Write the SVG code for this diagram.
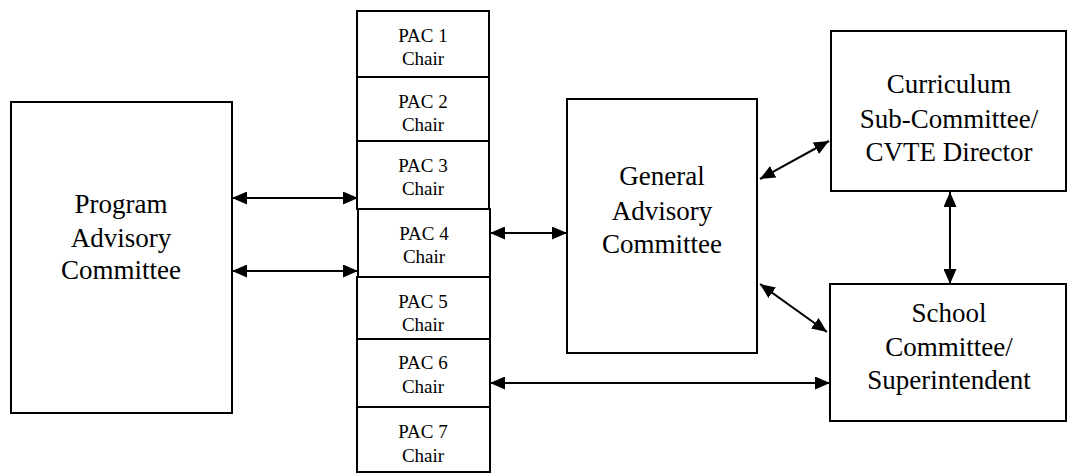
<svg xmlns="http://www.w3.org/2000/svg" width="1069" height="474" viewBox="0 0 1069 474" font-family="'Liberation Serif', 'DejaVu Serif', serif">
<style>
.box{fill:#fff;stroke:#000;stroke-width:2}
text{font-family:'Liberation Serif','DejaVu Serif',serif;fill:#000;text-anchor:middle}
.big{font-size:27px}
.pac{font-size:19px}
.conn{stroke:#000;stroke-width:2;fill:none;marker-start:url(#ah);marker-end:url(#ah)}
</style>
<defs>
<marker id="ah" viewBox="0 0 15 13" refX="15" refY="6.5" markerWidth="15" markerHeight="13" orient="auto-start-reverse" markerUnits="userSpaceOnUse">
<path d="M0,0 L15,6.5 L0,13 z" fill="#000"/>
</marker>
</defs>
<rect width="1069" height="474" fill="#fff"/>
<g id="program">
<rect class="box" x="11" y="102" width="221" height="311"/>
<text class="big" x="121" y="213">Program</text>
<text class="big" x="121" y="247">Advisory</text>
<text class="big" x="121" y="279">Committee</text>
</g>
<g id="pac1"><rect class="box" x="357" y="11" width="132" height="66"/><text class="pac" x="423" y="42">PAC 1</text><text class="pac" x="423" y="65">Chair</text></g>
<g id="pac2"><rect class="box" x="357" y="77" width="132" height="64"/><text class="pac" x="423" y="108">PAC 2</text><text class="pac" x="423" y="131">Chair</text></g>
<g id="pac3"><rect class="box" x="357" y="141" width="132" height="68"/><text class="pac" x="423" y="172">PAC 3</text><text class="pac" x="423" y="195">Chair</text></g>
<g id="pac4"><rect class="box" x="358" y="209" width="132" height="68"/><text class="pac" x="424" y="240">PAC 4</text><text class="pac" x="424" y="263">Chair</text></g>
<g id="pac5"><rect class="box" x="357" y="277" width="133" height="62"/><text class="pac" x="423" y="308">PAC 5</text><text class="pac" x="423" y="331">Chair</text></g>
<g id="pac6"><rect class="box" x="357" y="339" width="133" height="68"/><text class="pac" x="423" y="369">PAC 6</text><text class="pac" x="423" y="393">Chair</text></g>
<g id="pac7"><rect class="box" x="357" y="407" width="133" height="65"/><text class="pac" x="423" y="438">PAC 7</text><text class="pac" x="423" y="462">Chair</text></g>
<g id="general">
<rect class="box" x="567" y="99" width="190" height="254"/>
<text class="big" x="662" y="185">General</text>
<text class="big" x="662" y="220">Advisory</text>
<text class="big" x="662" y="253">Committee</text>
</g>
<g id="curriculum">
<rect class="box" x="831" y="31" width="235" height="160"/>
<text class="big" x="949" y="93">Curriculum</text>
<text class="big" x="949" y="128">Sub-Committee/</text>
<text class="big" x="949" y="161">CVTE Director</text>
</g>
<g id="school">
<rect class="box" x="830" y="284" width="236" height="137"/>
<text class="big" x="949" y="322">School</text>
<text class="big" x="949" y="356">Committee/</text>
<text class="big" x="949" y="389">Superintendent</text>
</g>
<g id="connectors">
<line class="conn" x1="232" y1="198" x2="358" y2="198"/>
<line class="conn" x1="232" y1="271" x2="358" y2="271"/>
<line class="conn" x1="490" y1="233" x2="567" y2="233"/>
<line class="conn" x1="490" y1="383" x2="830" y2="383"/>
<line class="conn" x1="760" y1="179" x2="829" y2="141"/>
<line class="conn" x1="760" y1="284" x2="827" y2="332"/>
<line class="conn" x1="950" y1="192" x2="950" y2="284"/>
</g>
</svg>
